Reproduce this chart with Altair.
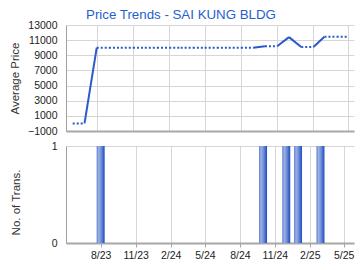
import altair as alt
import pandas as pd

FONT = "Liberation Sans"
BLUE = "#2a5acb"

# ---- data ----
months = [
    "2023/06/01", "2023/07/01", "2023/08/01", "2023/09/01", "2023/10/01", "2023/11/01",
    "2023/12/01", "2024/01/01", "2024/02/01", "2024/03/01", "2024/04/01", "2024/05/01",
    "2024/06/01", "2024/07/01", "2024/08/01", "2024/09/01", "2024/10/01", "2024/11/01",
    "2024/12/01", "2025/01/01", "2025/02/01", "2025/03/01", "2025/04/01", "2025/05/01",
]
prices = [
    0, 0, 10000, 10000, 10000, 10000,
    10000, 10000, 10000, 10000, 10000, 10000,
    10000, 10000, 10000, 10000, 10200, 10200,
    11400, 10100, 10100, 11450, 11450, 11450,
]
trans_months = ["2023/08/01", "2024/10/01", "2024/12/01", "2025/01/01", "2025/03/01"]
trans_counts = [1, 1, 1, 1, 1]

price_ticks = [-1000, 1000, 3000, 5000, 7000, 9000, 11000, 13000]
x_tick_dates = [(2023, 8), (2023, 11), (2024, 2), (2024, 5), (2024, 8), (2024, 11), (2025, 2), (2025, 5)]

# ---- build tables ----
rows = []
for i in range(len(months) - 1):
    style = "solid" if months[i + 1] in trans_months else "dot"
    for j in (i, i + 1):
        rows.append({"month": months[j], "price": prices[j], "seg": i, "style": style})
line_df = pd.DataFrame(rows)
bar_df = pd.DataFrame({"month": trans_months, "count": trans_counts})

x_dom = [alt.DateTime(year=2023, month=5, date=15), alt.DateTime(year=2025, month=5, date=15)]
x_vals = [alt.DateTime(year=y, month=m, date=1) for y, m in x_tick_dates]

GRID = "#d6d6d6"

x_top = alt.X(
    "month:T",
    scale=alt.Scale(domain=x_dom),
    axis=alt.Axis(values=x_vals, labels=False, ticks=False, grid=True, title=None,
                  domainColor="#a8a8a8", domainWidth=2),
)
y_top = alt.Y(
    "price:Q",
    scale=alt.Scale(domain=[-1000, 13000], nice=False, zero=False),
    axis=alt.Axis(values=price_ticks, format="d", title="Average Price", ticks=False,
                  labelPadding=9, titleX=-51, titleY=53, titleAlign="center",
                  titleBaseline="middle", domainColor="#a0a0a0"),
)

base = alt.Chart(line_df).encode(x=x_top, y=y_top, detail="seg:N")
solid = base.transform_filter(alt.datum.style == "solid").mark_line(color=BLUE, strokeWidth=2)
dots = base.transform_filter(alt.datum.style == "dot").mark_line(
    color=BLUE, strokeWidth=2, strokeDash=[2, 2])
top = alt.layer(solid, dots).properties(width=288, height=106)

bars = alt.Chart(bar_df).mark_bar(
    size=8,
    fill=alt.Gradient(
        gradient="linear", x1=0, x2=1, y1=0, y2=0,
        stops=[
            alt.GradientStop(offset=0, color="#5a7bd0"),
            alt.GradientStop(offset=0.25, color="#9cb2e6"),
            alt.GradientStop(offset=0.6, color="#6a8bd8"),
            alt.GradientStop(offset=0.85, color="#3560c8"),
            alt.GradientStop(offset=1, color="#2350bd"),
        ],
    ),
).encode(
    x=alt.X(
        "month:T",
        scale=alt.Scale(domain=x_dom),
        axis=alt.Axis(values=x_vals, format="%-m/%y", title=None, grid=True,
                      tickSize=4, labelPadding=3, domainColor="#a8a8a8", domainWidth=2,
                      tickColor="#a8a8a8"),
    ),
    y=alt.Y(
        "count:Q",
        scale=alt.Scale(domain=[0, 1], nice=False),
        axis=alt.Axis(values=[0, 1], format="d", title="No. of Trans.", ticks=False,
                      labelPadding=9, titleX=-50, titleY=56, titleAlign="center",
                      titleBaseline="middle", domainColor="#a0a0a0"),
    ),
).properties(width=288, height=97)

chart = alt.vconcat(top, bars, spacing=15, bounds="flush").properties(
    title=alt.TitleParams(
        "Price Trends - SAI KUNG BLDG", font=FONT, fontSize=13.3, fontWeight="normal",
        color="#1f5fd0", anchor="middle", frame="group", dx=-29, offset=-1,
    ),
    padding={"left": 8, "top": 7, "right": 5, "bottom": 5},
    background="white",
).configure_view(stroke=None).configure_axis(
    labelFont=FONT, labelFontSize=10.5, labelColor="#222222",
    titleFont=FONT, titleFontSize=11.5, titleFontWeight="normal", titleColor="#333333",
    gridColor=GRID, gridWidth=1,
)

chart.save("out.html", embed_options={"renderer": "svg", "actions": False})
